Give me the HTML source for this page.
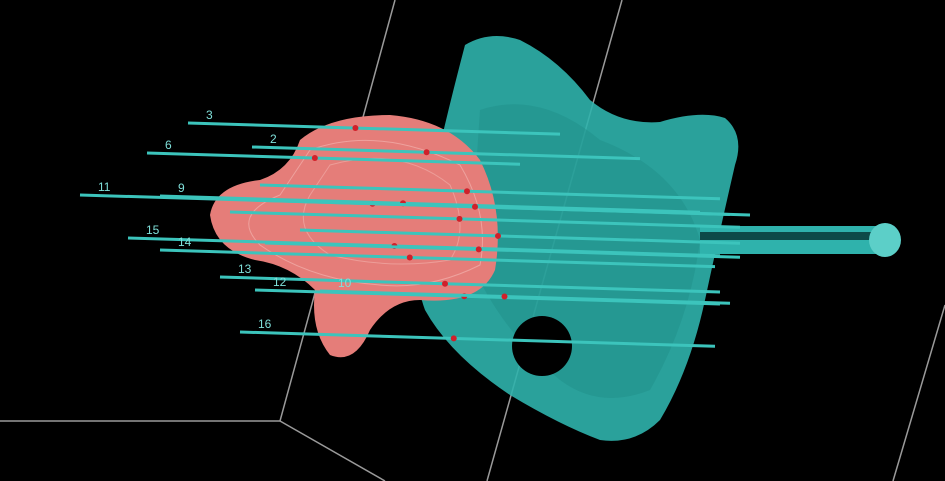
<!DOCTYPE html>
<html><head><meta charset="utf-8"><style>
html,body{margin:0;padding:0;background:#000;width:945px;height:481px;overflow:hidden}
svg{display:block}
text{font-family:"Liberation Sans",sans-serif;font-size:12px;fill:#7fe0da}
</style></head><body>
<svg id="s" width="945" height="481" viewBox="0 0 945 481">
<g stroke="#9a9a9a" stroke-width="1.5" fill="none">
<polyline points="395,0 280,421 0,421"/>
<line x1="280" y1="421" x2="385" y2="481"/>
<line x1="622" y1="0" x2="487" y2="481"/>
<line x1="945" y1="305" x2="893" y2="481"/>
</g>
<path fill="#2fb2ac" opacity="0.9" d="M465,45 Q490,30 520,40 Q560,60 590,100 Q620,125 660,122 Q700,110 725,118 Q745,135 735,165 Q720,230 705,300 Q690,370 660,420 Q635,445 600,440 Q560,425 510,395 Q450,355 425,310 Q410,270 425,215 Q440,140 465,45 Z"/>
<path fill="#1f8f8a" opacity="0.5" d="M480,110 Q540,90 600,140 Q680,170 700,240 Q690,320 650,390 Q600,410 560,380 Q500,330 470,260 Z"/>
<circle cx="542" cy="346" r="30" fill="#000"/>
<g>
<rect x="700" y="226" width="185" height="28" fill="#2fb2ac"/>
<rect x="700" y="232" width="185" height="8" fill="#0d4a48"/>
<ellipse cx="885" cy="240" rx="16" ry="17" fill="#5ccfc8"/>
</g>
<g>
<path fill="#e57d79" d="M300,140 Q330,115 390,115 Q450,120 480,160 Q505,210 495,270 Q480,305 420,300 Q390,300 370,330 Q355,365 330,355 Q310,330 315,290 Q290,265 255,260 Q215,250 210,215 Q215,185 260,180 Q290,170 300,140 Z"/>
<path fill="none" stroke="#f2b2ae" stroke-width="1" opacity="0.7" d="M310,150 Q380,125 460,165 Q490,215 480,265 Q430,290 380,285 Q310,280 260,245 Q230,215 280,195 Z"/>
<path fill="none" stroke="#f2b2ae" stroke-width="1" opacity="0.6" d="M330,165 Q400,145 450,185 Q470,230 450,260 Q390,270 330,255 Q290,230 310,195 Z"/>
</g>
<g id="needles"></g>
</svg>
<script>
var labels=["3","2","6","11","9","15","14","13","12","10","16","4","5","7","8","1"];
var y0=[123,147,153,195,196,238,250,277,290,291,332,200,185,212,243,230];
var x0=[188,252,147,80,160,128,160,220,255,320,240,250,260,230,265,300];
var x1=[560,640,520,730,700,720,715,720,720,730,715,750,720,740,740,740];
var slope=0.03;
var g=document.getElementById('needles');
var ns='http://www.w3.org/2000/svg';
for(var i=0;i<labels.length;i++){
 var l=document.createElementNS(ns,'line');
 l.setAttribute('x1',x0[i]);l.setAttribute('y1',y0[i]);
 l.setAttribute('x2',x1[i]);l.setAttribute('y2',y0[i]+(x1[i]-x0[i])*slope);
 l.setAttribute('stroke','#3cc4bc');l.setAttribute('stroke-width','3');
 
 
 g.appendChild(l);
 var c=document.createElementNS(ns,'circle');
 c.setAttribute('cx',x0[i]+(x1[i]-x0[i])*0.45);c.setAttribute('cy',y0[i]+(x1[i]-x0[i])*0.45*slope);
 c.setAttribute('r','3');c.setAttribute('fill','#d0202a');
 
 
 g.appendChild(c);
 if(i<11){
 var t=document.createElementNS(ns,'text');
 t.setAttribute('x',x0[i]+18);t.setAttribute('y',y0[i]-4);
 t.textContent=labels[i];
 
 
 g.appendChild(t);}
}
</script>
</body></html>
